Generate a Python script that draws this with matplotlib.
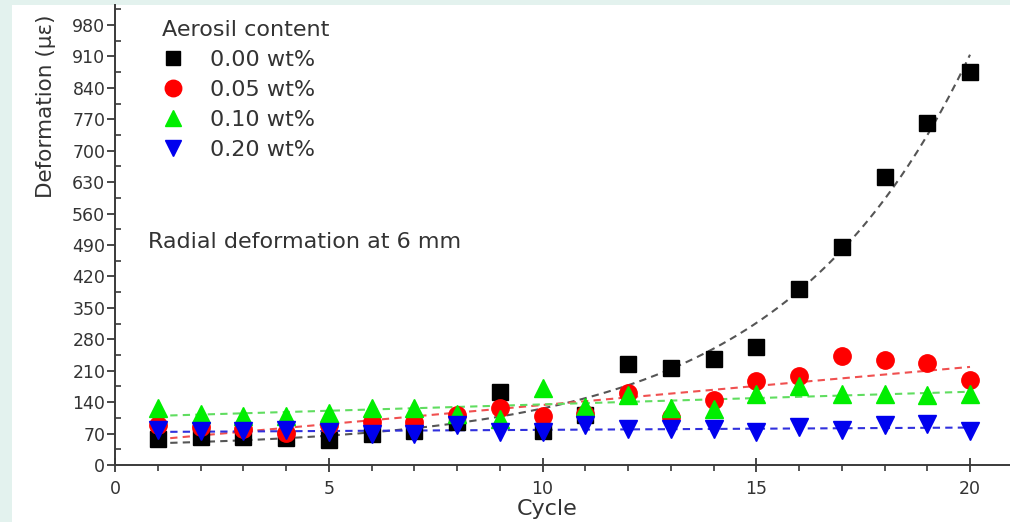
import numpy as np
import matplotlib
matplotlib.use("Agg")
import matplotlib.pyplot as plt
from matplotlib.patches import Rectangle
from matplotlib.ticker import MultipleLocator

plt.rcParams['font.family'] = ['DejaVu Sans']

cycles = np.arange(1, 21)
series_labels = ["0.00 wt%", "0.05 wt%", "0.10 wt%", "0.20 wt%"]
def_000 = [59, 62, 62, 60, 55, 70, 75, 95, 162, 75, 112, 224, 216, 237, 263, 392, 485, 641, 762, 876]
def_005 = [88, 85, 80, 72, 90, 95, 95, 112, 128, 110, 114, 160, 107, 145, 187, 198, 242, 233, 227, 189]
def_010 = [128, 114, 110, 110, 115, 128, 128, 114, 103, 172, 130, 157, 128, 125, 158, 176, 158, 158, 156, 159]
def_020 = [77, 75, 75, 77, 73, 70, 70, 88, 73, 73, 88, 81, 81, 81, 73, 84, 77, 88, 92, 75]

legend_title = "Aerosil content"
annotation = "Radial deformation at 6 mm"
x_label = "Cycle"
y_label = "Deformation (με)"

W, H = 1010, 522
fig = plt.figure(figsize=(W / 100, H / 100), dpi=100)
fig.patch.set_facecolor("#e3f2ee")
fig.add_artist(Rectangle((12 / W, 0), 1, 1 - 5 / H, transform=fig.transFigure,
                         facecolor="white", edgecolor="none", zorder=-10))

x0, x1 = 115, 1010
y0, y1 = 465, 5
ax = fig.add_axes([x0 / W, 1 - y0 / H, (x1 - x0) / W, (y0 - y1) / H])
ax.set_facecolor("none")
ax.set_xlim(0, (x1 - x0) / 42.75)
ax.set_ylim(0, (y0 - y1) / 0.449)

txt = "#333333"
for s in ["top", "right"]:
    ax.spines[s].set_visible(False)
for s in ["left", "bottom"]:
    ax.spines[s].set_color("#3a3a3a")
    ax.spines[s].set_linewidth(1.4)

ax.xaxis.set_major_locator(MultipleLocator(5))
ax.xaxis.set_minor_locator(MultipleLocator(1))
ax.yaxis.set_major_locator(MultipleLocator(70))
ax.yaxis.set_minor_locator(MultipleLocator(35))
ax.tick_params(axis="x", which="major", direction="inout", length=10, width=1.3, color="#3a3a3a",
               labelsize=12.5, labelcolor=txt, pad=6)
ax.tick_params(axis="x", which="minor", direction="out", length=4, width=1.2, color="#3a3a3a")
ax.tick_params(axis="y", which="major", direction="out", length=6, width=1.3, color="#3a3a3a",
               labelsize=12.5, labelcolor=txt, pad=1)
ax.tick_params(axis="y", which="minor", direction="in", length=4, width=1.2, color="#3a3a3a")

ax.set_xlabel(x_label, fontsize=16, color=txt)
ax.xaxis.set_label_coords(0.483, -0.074)
ax.set_ylabel(y_label, fontsize=15.5, color=txt)
ax.yaxis.set_label_coords(-0.066, 0.78)

styles = [
    dict(marker="s", color="black", ms=11, fit="#555555"),
    dict(marker="o", color="#ff0000", ms=12.5, fit="#f05050"),
    dict(marker="^", color="#00ee00", ms=12.5, fit="#60dd60"),
    dict(marker="v", color="#0000ee", ms=12.5, fit="#3030dd"),
]
data = [def_000, def_005, def_010, def_020]
xs = np.array(cycles, dtype=float)
xf = np.linspace(xs.min(), xs.max(), 200)

# fits (computed from the data)
fits = []
ys0 = np.array(def_000, dtype=float)
best = None
for t in np.linspace(1.5, 15, 500):
    M = np.column_stack([np.ones_like(xs), np.exp(xs / t)])
    coef, res, *_ = np.linalg.lstsq(M, ys0, rcond=None)
    err = np.sum((M @ coef - ys0) ** 2)
    if best is None or err < best[0]:
        best = (err, t, coef)
_, tb, cb = best
fits.append(cb[0] + cb[1] * np.exp(xf / tb))
for d in data[1:]:
    p = np.polyfit(xs, np.array(d, dtype=float), 1)
    fits.append(np.polyval(p, xf))

for i, (d, st) in enumerate(zip(data, styles)):
    ax.plot(xf, fits[i], linestyle=(0, (3.5, 2.5)), color=st["fit"], lw=1.5, zorder=2 + i * 0.1)
for i, (d, st, lab) in enumerate(zip(data, styles, series_labels)):
    ax.plot(xs, d, linestyle="none", marker=st["marker"], color=st["color"], ms=st["ms"],
            mec=st["color"], label=lab, zorder=3 + i)

leg = ax.legend(title=legend_title, loc="upper left", bbox_to_anchor=(0.0525, 0.968),
                frameon=False, fontsize=16, title_fontsize=16, borderpad=0, borderaxespad=0,
                handlelength=1.0, handletextpad=1.15, labelspacing=0.45, alignment="left",
                markerscale=0.95)
for t in leg.get_texts():
    t.set_color(txt)
leg.get_title().set_color(txt)

ax.text(0.77, 497, annotation, fontsize=16, color=txt, va="center", ha="left")

fig.savefig("out.png", dpi=100, facecolor=fig.get_facecolor())
